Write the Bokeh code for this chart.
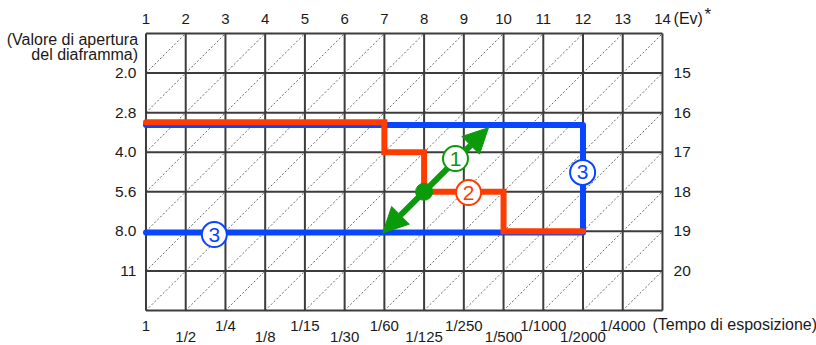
from bokeh.plotting import figure
from bokeh.models import Range1d, Arrow, NormalHead
from bokeh.core.properties import value
from bokeh.embed import file_html
from bokeh.resources import INLINE

# ---- data ----
ev_top = list(range(1, 15))                     # Ev scale along the top
aperture_labels = ["2.0", "2.8", "4.0", "5.6", "8.0", "11"]
aperture_rows = [1, 2, 3, 4, 5, 6]
ev_right_labels = ["15", "16", "17", "18", "19", "20"]
shutter_labels = ["1", "1/2", "1/4", "1/8", "1/15", "1/30", "1/60",
                  "1/125", "1/250", "1/500", "1/1000", "1/2000", "1/4000"]
shutter_pos = list(range(1, 14))
n_rows = 7

# program line (2) - red
prog2_x = [1, 7, 7, 8, 8, 10, 10, 12]
prog2_y = [2.24, 2.24, 3, 3, 4, 4, 5, 5]
# program line (3) - blue
prog3_x = [1, 12, 12, 1]
prog3_y = [2.31, 2.31, 5.03, 5.03]
# program shift (1) - green arrow
shift_x = [6.96, 9.62]
shift_y = [5.04, 2.38]
shift_pt_x = [8]
shift_pt_y = [4]
# circled markers
mark_text = ["1", "2", "3", "3"]
mark_x = [8.79, 9.12, 11.99, 2.72]
mark_y = [3.16, 4.02, 3.51, 5.08]

RED = "#ff3c00"
BLUE = "#0a46ff"
GREEN = "#0a9a0a"
GRID = "#3c3c3c"
FONT = value("Liberation Sans")
TXT = "#1a1a1a"

p = figure(width=816, height=345, output_backend="svg", toolbar_location=None,
           x_range=Range1d(-2.662, 17.877), y_range=Range1d(7.885, -0.834),
           min_border=0, background_fill_color="white", border_fill_color="white")
p.axis.visible = False
p.xgrid.visible = False
p.ygrid.visible = False
p.outline_line_color = None

# diagonal dashed lines in each cell
dx0, dy0, dx1, dy1 = [], [], [], []
for c in ev_top[:-1]:
    for r in range(n_rows):
        dx0.append(c); dy0.append(r + 1); dx1.append(c + 1); dy1.append(r)
p.segment(dx0, dy0, dx1, dy1, line_color="#666666", line_width=1, line_dash="2 2")

# grid
p.segment(ev_top, [0] * len(ev_top), ev_top, [n_rows] * len(ev_top),
          line_color=GRID, line_width=2)
rows = list(range(n_rows + 1))
p.segment([ev_top[0]] * len(rows), rows, [ev_top[-1]] * len(rows), rows,
          line_color=GRID, line_width=2)

# program lines
p.line(prog3_x, prog3_y, line_color=BLUE, line_width=6, line_join="round", line_cap="round")
p.line(prog2_x, prog2_y, line_color=RED, line_width=6, line_join="miter", line_cap="round")

# green arrow
p.add_layout(Arrow(x_start=shift_x[0], y_start=shift_y[0], x_end=shift_x[1], y_end=shift_y[1],
                   line_color=GREEN, line_width=6,
                   start=NormalHead(size=25, fill_color=GREEN, line_color=GREEN, line_width=1),
                   end=NormalHead(size=25, fill_color=GREEN, line_color=GREEN, line_width=1)))
r = p.scatter(shift_pt_x, shift_pt_y, size=17, fill_color=GREEN, line_color=GREEN)
r.level = "overlay"

# circled markers
mcol = [GREEN, RED, BLUE, BLUE]
r = p.scatter(mark_x, mark_y, size=25, fill_color="white", line_color=mcol, line_width=2)
r.level = "overlay"
r = p.text(mark_x, mark_y, text=mark_text, text_color=mcol, text_font=FONT,
           text_font_size="21px", text_align="center", text_baseline="middle")
r.level = "overlay"

# top Ev labels
p.text(ev_top, [-0.37] * len(ev_top), text=[str(v) for v in ev_top], text_font=FONT,
       text_font_size="15px", text_align="center", text_baseline="middle", text_color=TXT)
p.text([14.28], [-0.37], text=["(Ev)"], text_font=FONT, text_font_size="16px",
       text_align="left", text_baseline="middle", text_color=TXT)
p.text([15.06], [-0.49], text=["*"], text_font=FONT, text_font_size="17px",
       text_align="left", text_baseline="middle", text_color=TXT)

# left aperture labels
p.text([0.76] * len(aperture_rows), aperture_rows, text=aperture_labels, text_font=FONT,
       text_font_size="15.5px", text_align="right", text_baseline="middle", text_color=TXT)
p.text([0.80, 0.80], [0.15, 0.53], text=["(Valore di apertura", "del diaframma)"],
       text_font=FONT, text_font_size="16px", text_align="right", text_baseline="middle",
       text_color=TXT)

# right Ev labels
p.text([14.28] * len(aperture_rows), aperture_rows, text=ev_right_labels, text_font=FONT,
       text_font_size="15.5px", text_align="left", text_baseline="middle", text_color=TXT)

# bottom shutter labels (staggered)
bx_odd = shutter_pos[0::2]
bx_even = shutter_pos[1::2]
p.text(bx_odd, [7.39] * len(bx_odd), text=shutter_labels[0::2], text_font=FONT,
       text_font_size="15px", text_align="center", text_baseline="middle", text_color=TXT)
p.text(bx_even, [7.67] * len(bx_even), text=shutter_labels[1::2], text_font=FONT,
       text_font_size="15px", text_align="center", text_baseline="middle", text_color=TXT)
p.text([13.75], [7.35], text=["(Tempo di esposizione)"], text_font=FONT,
       text_font_size="16px", text_align="left", text_baseline="middle", text_color=TXT)

open("out.html", "w").write(file_html(p, INLINE))
